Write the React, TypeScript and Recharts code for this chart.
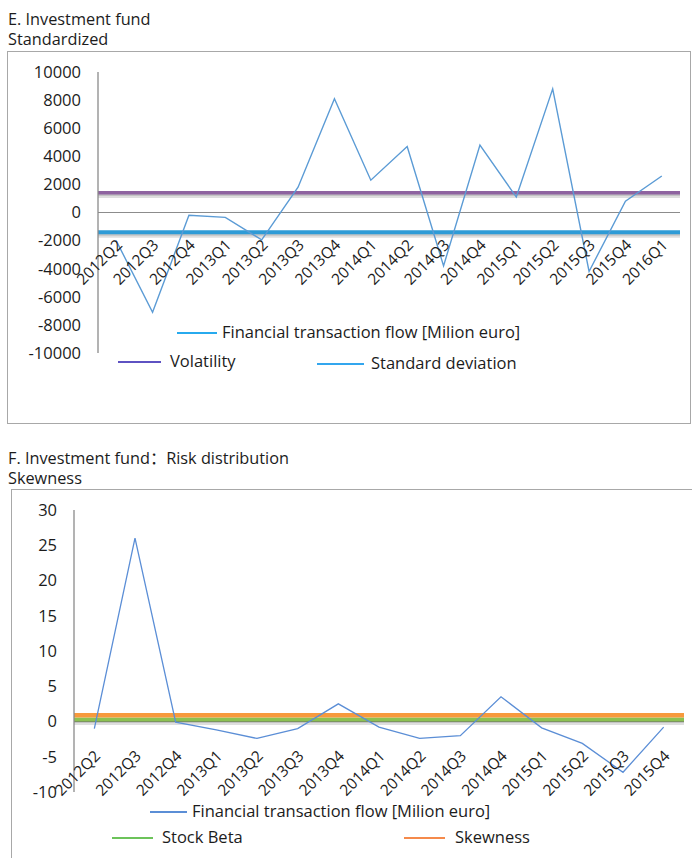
import React from 'react';
import { LineChart, Line, XAxis, YAxis, ReferenceLine, Legend } from 'recharts';

// ---------- Data: chart E ----------
const quartersE = ['2012Q2', '2012Q3', '2012Q4', '2013Q1', '2013Q2', '2013Q3', '2013Q4', '2014Q1', '2014Q2', '2014Q3', '2014Q4', '2015Q1', '2015Q2', '2015Q3', '2015Q4', '2016Q1'];
const flowE = [-2000, -7100, -200, -350, -1950, 1800, 8100, 2300, 4700, -3800, 4800, 1100, 8800, -4200, 800, 2600];
const volatilityE = 1400;
const stdDevE = -1400;
const yTicksE = [10000, 8000, 6000, 4000, 2000, 0, -2000, -4000, -6000, -8000, -10000];

// ---------- Data: chart F ----------
const quartersF = ['2012Q2', '2012Q3', '2012Q4', '2013Q1', '2013Q2', '2013Q3', '2013Q4', '2014Q1', '2014Q2', '2014Q3', '2014Q4', '2015Q1', '2015Q2', '2015Q3', '2015Q4'];
const flowF = [-1, 26, -0.1, -1.2, -2.4, -1, 2.5, -0.8, -2.4, -2, 3.5, -0.9, -3.1, -7.2, -0.8];
const stockBetaF = 0.3;
const skewnessF = 0.9;
const yTicksF = [30, 25, 20, 15, 10, 5, 0, -5, -10];

const FONT = '"Open Sans", "Noto Sans CJK SC", sans-serif';
const TEXT = '#1c1c1c';

const dataE = quartersE.map((q, i) => ({ q, flow: flowE[i] }));
const dataF = quartersF.map((q, i) => ({ q, flow: flowF[i] }));

type LegendItem = { name: string; color: string; x1: number; x2: number; y: number; tx: number };

const legendE: LegendItem[] = [
  { name: 'Financial transaction flow [Milion euro]', color: '#27aaee', x1: 177, x2: 217, y: 333, tx: 222 },
  { name: 'Volatility', color: '#5e52c2', x1: 118, x2: 161, y: 362, tx: 170 },
  { name: 'Standard deviation', color: '#33a6ee', x1: 317, x2: 364, y: 364, tx: 371 },
];
const legendF: LegendItem[] = [
  { name: 'Financial transaction flow [Milion euro]', color: '#5b8ed6', x1: 150, x2: 187, y: 382, tx: 192 },
  { name: 'Stock Beta', color: '#6cc35a', x1: 112, x2: 153, y: 408, tx: 162 },
  { name: 'Skewness', color: '#f58a4b', x1: 404, x2: 445, y: 408, tx: 455 },
];

const makeLegend = (items: LegendItem[]) => () => (
  <div style={{ position: 'relative', width: 692, height: 1 }}>
    {items.map((it) => (
      <React.Fragment key={it.name}>
        <div style={{ position: 'absolute', left: it.x1, top: it.y - 1, width: it.x2 - it.x1, height: 2, background: it.color }} />
        <div style={{ position: 'absolute', left: it.tx, top: it.y - 12, fontFamily: FONT, fontSize: 16.5, lineHeight: '22px', color: TEXT, whiteSpace: 'nowrap' }}>{it.name}</div>
      </React.Fragment>
    ))}
  </div>
);

const makeTick = (labelY: number) => (props: any) => {
  const { x, payload } = props;
  return (
    <g transform={`translate(${x + 7},${labelY}) rotate(-45)`}>
      <text x={0} y={0} textAnchor="end" fontFamily={FONT} fontSize={15.5} fill={TEXT}>
        {payload.value}
      </text>
    </g>
  );
};

const shadowLine = (color: string, width: number) => (p: any) => {
  const { x1, y1, x2, y2 } = p;
  return (
    <g>
      <line x1={x1} y1={y1 + 3} x2={x2} y2={y2 + 3} stroke="rgba(0,0,0,0.13)" strokeWidth={width + 1} />
      <line x1={x1} y1={y1 + 2} x2={x2} y2={y2 + 2} stroke="rgba(0,0,0,0.12)" strokeWidth={width - 1} />
      <line x1={x1} y1={y1} x2={x2} y2={y2} stroke={color} strokeWidth={width} />
    </g>
  );
};

const yTickStyle = { fontSize: 16.5, fill: TEXT, fontFamily: FONT };
const titleStyle: React.CSSProperties = { position: 'absolute', left: 8, fontFamily: FONT, fontSize: 16.3, lineHeight: '16px', color: TEXT, whiteSpace: 'nowrap' };

export default function App() {
  return (
    <div style={{ position: 'absolute', left: 0, top: 0, width: 692, height: 858, overflow: 'hidden', background: '#fff' }}>
      {/* Chart E */}
      <div style={{ ...titleStyle, top: 11 }}>E. Investment fund</div>
      <div style={{ ...titleStyle, top: 31 }}>Standardized</div>
      <div style={{ position: 'absolute', left: 7, top: 51, width: 682, height: 371, border: '1.5px solid #a8a8a8' }} />
      <div style={{ position: 'absolute', left: 0, top: 0 }}>
        <LineChart width={692} height={430} data={dataE} margin={{ top: 72, right: 12, bottom: 75, left: 0 }}>
          <XAxis dataKey="q" scale="band" height={1} axisLine={false} tickLine={false} interval={0} tick={makeTick(246)} />
          <YAxis width={98} domain={[-10000, 10000]} ticks={yTicksE} interval={0} axisLine={{ stroke: '#8a8a8a', strokeWidth: 1.3 }} tickLine={false} tickSize={0} tickMargin={17} tick={yTickStyle} />
          <ReferenceLine y={0} stroke="#8c8c8c" strokeWidth={1.2} />
          <ReferenceLine y={volatilityE} shape={shadowLine('#8e63a0', 3.5)} />
          <ReferenceLine y={stdDevE} shape={shadowLine('#2e9bd6', 4)} />
          <Line dataKey="flow" stroke="#5b9bd5" strokeWidth={1.4} dot={false} isAnimationActive={false} />
          <Legend content={makeLegend(legendE)} wrapperStyle={{ position: 'absolute', left: 0, top: 0, width: 692, height: 1 }} />
        </LineChart>
      </div>

      {/* Chart F */}
      <div style={{ ...titleStyle, top: 450 }}>F. Investment fund：Risk distribution</div>
      <div style={{ ...titleStyle, top: 470 }}>Skewness</div>
      <div style={{ position: 'absolute', left: 11, top: 489, width: 700, height: 420, border: '1.5px solid #a8a8a8' }} />
      <div style={{ position: 'absolute', left: 0, top: 430 }}>
        <LineChart width={692} height={428} data={dataF} margin={{ top: 80, right: 8, bottom: 64, left: 0 }}>
          <XAxis dataKey="q" scale="band" height={1} axisLine={false} tickLine={false} interval={0} tick={makeTick(327)} />
          <YAxis width={74} domain={[-10, 30]} ticks={yTicksF} interval={0} axisLine={{ stroke: '#8a8a8a', strokeWidth: 1.3 }} tickLine={false} tickSize={0} tickMargin={17} tick={yTickStyle} />
          <ReferenceLine y={0} stroke="#8c8c8c" strokeWidth={1.2} />
          <ReferenceLine y={stockBetaF} shape={shadowLine('#8cc152', 4)} />
          <ReferenceLine y={skewnessF} shape={(p: any) => <line x1={p.x1} y1={p.y1} x2={p.x2} y2={p.y2} stroke="#f79a3d" strokeWidth={4.5} />} />
          <Line dataKey="flow" stroke="#5b8ed6" strokeWidth={1.3} dot={false} isAnimationActive={false} />
          <Legend content={makeLegend(legendF)} wrapperStyle={{ position: 'absolute', left: 0, top: 0, width: 692, height: 1 }} />
        </LineChart>
      </div>
    </div>
  );
}
